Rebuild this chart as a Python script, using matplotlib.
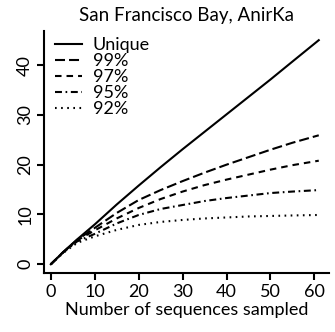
"""
Rarefaction curves: San Francisco Bay, AnirKa.
Unique sequences and OTUs at 99/97/95/92% identity vs. sequences sampled.
"""

import matplotlib
matplotlib.use("Agg")
import matplotlib.pyplot as plt

plt.rcParams["font.family"] = ["Lato", "DejaVu Sans"]
plt.rcParams["lines.scale_dashes"] = False

# values
n_sampled = [0, 3, 6, 10, 15, 20, 25, 30, 35, 40, 45, 50, 55, 61]
unique = [0, 2.6, 5.0, 8.0, 12.0, 15.8, 19.5, 23.1, 26.6, 30.1, 33.6, 37.1, 40.7, 45.0]
otu_99 = [0, 2.6, 4.9, 7.3, 10.3, 12.9, 14.9, 16.7, 18.4, 20.0, 21.5, 23.0, 24.4, 25.9]
otu_97 = [0, 2.6, 4.8, 6.8, 9.2, 11.3, 13.1, 14.6, 15.9, 17.0, 18.0, 19.0, 19.9, 20.8]
otu_95 = [0, 2.5, 4.6, 6.1, 8.2, 9.9, 11.1, 11.9, 12.7, 13.3, 13.8, 14.3, 14.6, 14.9]
otu_92 = [0, 2.4, 4.3, 5.6, 6.9, 7.9, 8.5, 8.9, 9.2, 9.4, 9.6, 9.7, 9.8, 9.9]

labels = ["Unique", "99%", "97%", "95%", "92%"]
x_ticks = [0, 10, 20, 30, 40, 50, 60]
y_ticks = [0, 10, 20, 30, 40]

styles = [
    "-",
    (0, (7.2, 2.9)),
    (0, (4.7, 3.6)),
    (0, (5.0, 2.6, 1.2, 2.6)),
    (0, (1.2, 3.2)),
]

fig = plt.figure(figsize=(3.35, 3.32), dpi=100)
ax = fig.add_axes([0.132, 0.177, 0.851, 0.729])

for series, ls, lab in zip([unique, otu_99, otu_97, otu_95, otu_92], styles, labels):
    ax.plot(n_sampled, series, color="black", linestyle=ls, linewidth=1.5, label=lab)

ax.set_xlim(-1.5, 63.4)
ax.set_ylim(-1.8, 46.8)
ax.set_xticks(x_ticks)
ax.set_yticks(y_ticks)
ax.spines["top"].set_visible(False)
ax.spines["right"].set_visible(False)
for s in ("left", "bottom"):
    ax.spines[s].set_linewidth(1.5)
ax.tick_params(direction="out", length=5, width=1.5, labelsize=13, pad=3)
for lbl in ax.get_yticklabels():
    lbl.set_rotation(90)
    lbl.set_va("center")

ax.set_xlabel("Number of sequences sampled", fontsize=13, labelpad=1)
ax.set_title("San Francisco Bay, AnirKa", fontsize=13.5, pad=7)

ax.legend(loc="upper left", frameon=False, fontsize=13, handlelength=1.5,
          handletextpad=0.6, labelspacing=0.0, borderaxespad=0.2,
          bbox_to_anchor=(0.0, 1.02))

fig.savefig("out.png", dpi=100)
